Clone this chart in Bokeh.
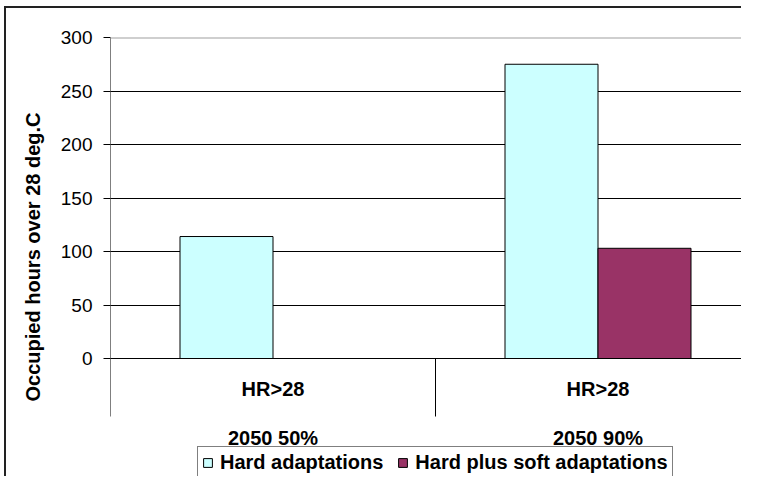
from bokeh.plotting import figure
from bokeh.models import Range1d, FixedTicker, Legend, LegendItem, Span
from bokeh.core.properties import value
from bokeh.embed import file_html
from bokeh.resources import INLINE

# ---- data ----
categories = ["HR>28", "HR>28"]
scenarios = ["2050 50%", "2050 90%"]
series_names = ["Hard adaptations", "Hard plus soft adaptations"]
hard = [114, 275]
hard_soft = [float("nan"), 103]
y_ticks = [0, 50, 100, 150, 200, 250, 300]
y_label = "Occupied hours over 28 deg.C"

# ---- layout constants ----
FONT = "Liberation Sans"
W, H = 741, 476
LEFT, TOP = 110, 37
frame_w = W - LEFT
frame_h = H - TOP
px_per_cat = 325.0
px_per_unit = 321.0 / 300.0
x_end = frame_w / px_per_cat
y_end = y_ticks[-1]
y_start = y_end - frame_h / px_per_unit
bar_w = 93.0 / px_per_cat


def below_zero(px):
    return -px / px_per_unit


p = figure(width=W, height=H, output_backend="svg", toolbar_location=None,
           x_range=Range1d(0, x_end), y_range=Range1d(y_start, y_end),
           x_axis_location=None,
           min_border_left=LEFT, min_border_top=TOP,
           min_border_right=0, min_border_bottom=0)
p.border_fill_color = None
p.background_fill_color = "white"
p.outline_line_color = None
# outer chart border (top and left edges visible in the window)
p.styles = {
    "background": "linear-gradient(#222222, #222222) 4px 6px / 2px 100% no-repeat, "
                  "linear-gradient(#222222, #222222) 4px 6px / 100% 2px no-repeat, white"
}

ticker = FixedTicker(ticks=y_ticks)
p.yaxis.ticker = ticker
p.ygrid.ticker = FixedTicker(ticks=y_ticks[:-1])
p.ygrid.grid_line_color = "black"
p.ygrid.grid_line_width = 1
p.xgrid.visible = False
p.add_layout(Span(location=y_end, dimension="width", line_color="#a0a0a0", line_width=2))

ax = p.yaxis[0]
ax.axis_line_color = None
ax.major_tick_in = 0
ax.major_tick_out = 7
ax.major_tick_line_color = "black"
ax.minor_tick_line_color = None
ax.major_label_standoff = 11
ax.major_label_text_font = FONT
ax.major_label_text_font_size = "19px"
ax.major_label_text_color = "black"
ax.axis_label = y_label
ax.axis_label_text_font = FONT
ax.axis_label_text_font_size = "20px"
ax.axis_label_text_font_style = "bold"
ax.axis_label_text_color = "black"
ax.axis_label_standoff = 14

centers = [i + 0.5 for i in range(len(categories))]
r1 = p.vbar(x=[c - bar_w / 2 for c in centers], top=hard, bottom=0, width=bar_w,
            fill_color="#CCFFFF", line_color="black", line_width=1)
r2 = p.vbar(x=[c + bar_w / 2 for c in centers], top=hard_soft, bottom=0, width=bar_w,
            fill_color="#993366", line_color="black", line_width=1)

y_low = below_zero(58)
n = len(categories)
p.segment(x0=list(range(n + 1)), x1=list(range(n + 1)),
          y0=[y_low] * (n + 1), y1=[y_end] + [0] * n,
          line_color="black", line_width=1)

p.text(x=centers, y=[below_zero(30)] * n, text=categories,
       text_font=value(FONT), text_font_size="20px", text_font_style="bold",
       text_align="center", text_baseline="middle", text_color="black")
p.text(x=centers, y=[below_zero(79)] * n, text=scenarios,
       text_font=value(FONT), text_font_size="20px", text_font_style="bold",
       text_align="center", text_baseline="middle", text_color="black")

legend = Legend(items=[LegendItem(label=series_names[0], renderers=[r1]),
                       LegendItem(label=series_names[1], renderers=[r2])],
                orientation="horizontal", location=(87, -3))
legend.padding = 4
legend.margin = 0
legend.spacing = 14
legend.label_standoff = 7
legend.glyph_width = 11
legend.glyph_height = 11
legend.label_height = 20
legend.label_text_font = FONT
legend.label_text_font_size = "20px"
legend.label_text_font_style = "bold"
legend.label_text_color = "black"
legend.border_line_color = "black"
legend.border_line_width = 1
legend.background_fill_color = "white"
legend.background_fill_alpha = 1
p.add_layout(legend)

open("out.html", "w").write(file_html(p, INLINE))
